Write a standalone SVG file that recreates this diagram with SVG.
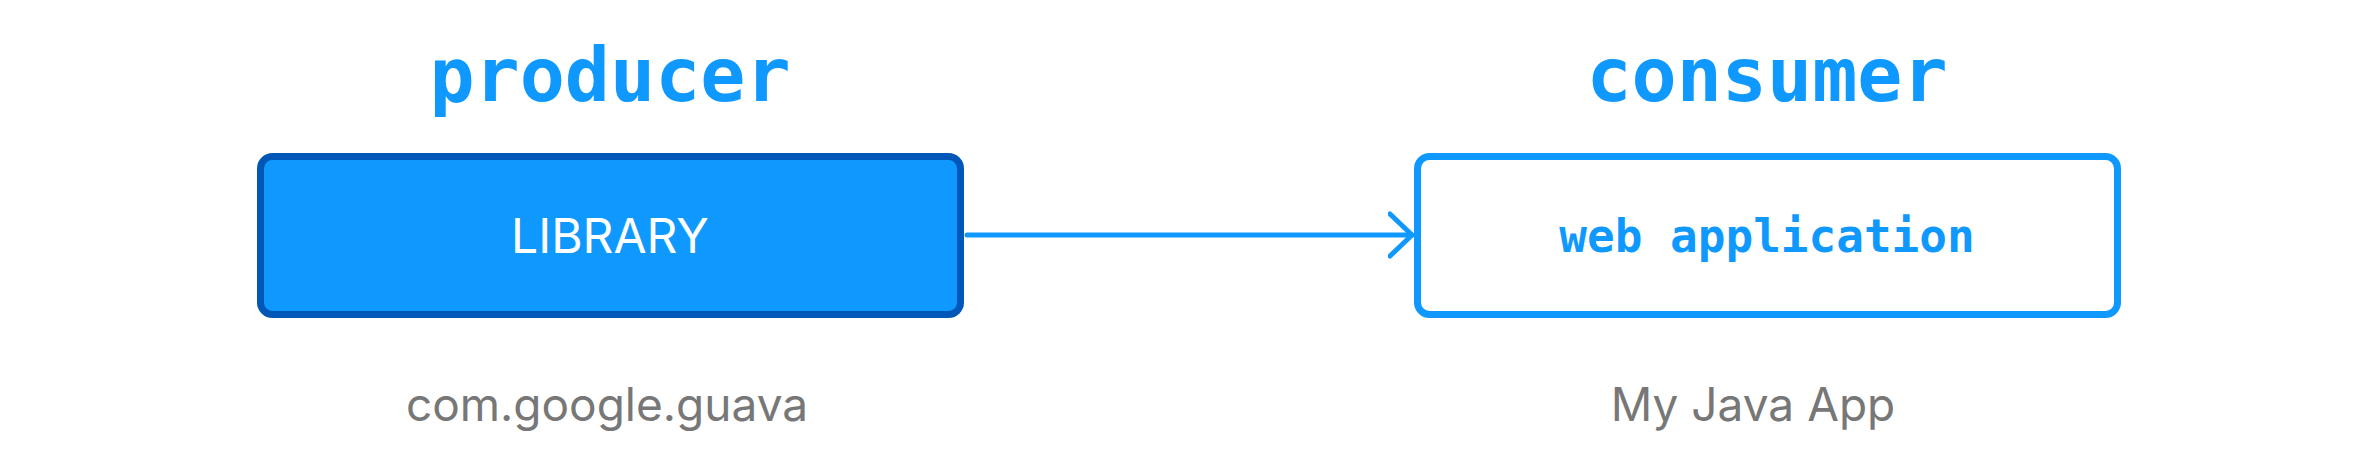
<svg xmlns="http://www.w3.org/2000/svg" width="2378" height="471" viewBox="0 0 2378 471">
<defs>
<style>
.title{font-family:"DejaVu Sans Mono","Liberation Mono",monospace;font-weight:bold;font-size:75px;fill:#0f99ff;text-anchor:middle}
.sub{font-family:Inter,"Liberation Sans",sans-serif;font-size:46px;fill:#777777;text-anchor:middle}
.box{stroke-width:7}
</style>
<marker id="arr" viewBox="0 0 30 50" refX="24" refY="25" markerWidth="30" markerHeight="50" markerUnits="userSpaceOnUse" orient="auto">
<path d="M2,4 L24,25 L2,46" fill="none" stroke="#0f99ff" stroke-width="5" stroke-linecap="round" stroke-linejoin="round"/>
</marker>
</defs>
<rect width="2378" height="471" fill="#ffffff"/>
<g id="producer">
<text class="title" x="610" y="101">producer</text>
<rect class="box" x="260.5" y="156.5" width="700" height="158" rx="12" fill="#0f99ff" stroke="#0057b8"/>
<text x="610" y="253" font-family="Inter,'Liberation Sans',sans-serif" font-size="48" fill="#ffffff" text-anchor="middle">LIBRARY</text>
<text class="sub" x="607" y="421">com.google.guava</text>
</g>
<g id="consumer">
<text class="title" x="1767" y="101">consumer</text>
<rect class="box" x="1417.5" y="156.5" width="700" height="158" rx="12" fill="#ffffff" stroke="#0f99ff"/>
<text x="1767" y="252" font-family="'DejaVu Sans Mono','Liberation Mono',monospace" font-weight="bold" font-size="46" fill="#0f99ff" text-anchor="middle">web application</text>
<text class="sub" x="1753" y="421">My Java App</text>
</g>
<g id="connectors">
<line x1="967" y1="235" x2="1412" y2="235" stroke="#0f99ff" stroke-width="5" stroke-linecap="round" marker-end="url(#arr)"/>
</g>
</svg>
